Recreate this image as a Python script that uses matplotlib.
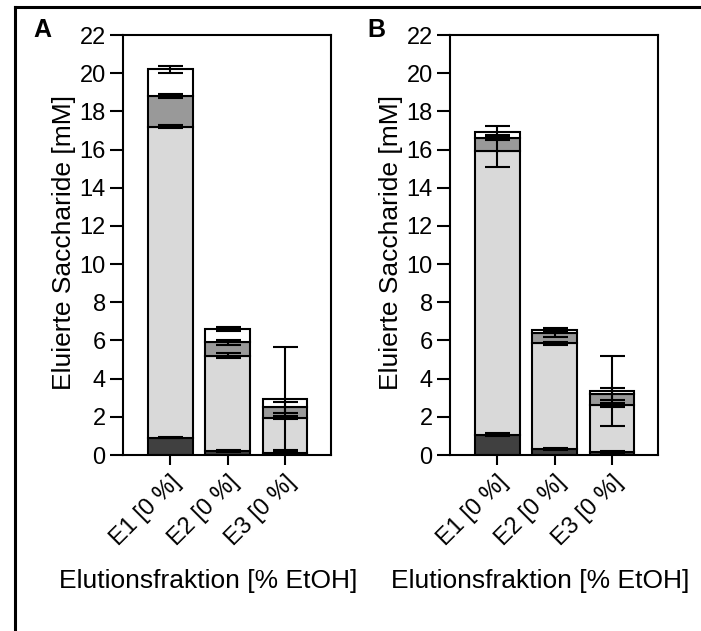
import matplotlib
matplotlib.use("Agg")
import matplotlib.pyplot as plt
import numpy as np
from matplotlib.lines import Line2D

plt.rcParams["font.family"] = ["Liberation Sans", "DejaVu Sans"]

# --- data -----------------------------------------------------------------
categories = ["E1 [0 %]", "E2 [0 %]", "E3 [0 %]"]
yticks = list(range(0, 23, 2))

# panel A, stacked segments (bottom -> top)
dark_A = [0.9, 0.2, 0.1]
light_A = [16.3, 5.0, 1.85]
medium_A = [1.6, 0.7, 0.55]
white_A = [1.4, 0.7, 0.45]
err_dark_A = [0.03, 0.05, 0.1]
err_light_A = [0.08, 0.12, 0.08]
err_medium_A = [0.1, 0.12, 0.3]
err_white_A = [0.2, 0.1, 2.7]

# panel B
dark_B = [1.05, 0.3, 0.15]
light_B = [14.87, 5.55, 2.45]
medium_B = [0.66, 0.55, 0.6]
white_B = [0.36, 0.15, 0.15]
err_dark_B = [0.08, 0.05, 0.05]
err_light_B = [0.85, 0.08, 0.1]
err_medium_B = [0.06, 0.2, 0.3]
err_white_B = [0.3, 0.08, 1.85]

# --- style ------------------------------------------------------------------
COLORS = ["#404040", "#d9d9d9", "#999999", "#ffffff"]
LW = 1.5
TICK_FS = 17
LABEL_FS = 19

W, H = 701, 631
fig = plt.figure(figsize=(W / 100, H / 100), dpi=100)


def px(x, y):
    return x / W, 1 - y / H


def panel(left_px, segs, errs, letter, letter_x, ylab_x, xlab_x):
    ax = fig.add_axes([left_px / W, 1 - 455 / H, 208 / W, 420 / H])
    x = np.arange(len(categories))
    bottom = np.zeros(len(categories))
    for seg, err, col in zip(segs, errs, COLORS):
        seg = np.array(seg)
        ax.bar(x, seg, 0.78, bottom=bottom, color=col, edgecolor="black",
               linewidth=LW, zorder=2)
        bottom = bottom + seg
        ax.errorbar(x, bottom, yerr=err, fmt="none", ecolor="black",
                    elinewidth=LW, capsize=9, capthick=LW, zorder=3)
    ax.set_xlim(-0.82, 2.8)
    ax.set_ylim(0, 22)
    ax.set_yticks(yticks)
    ax.set_xticks(x)
    ax.set_xticklabels(categories, rotation=45, ha="right", va="top",
                       rotation_mode="anchor")
    ax.tick_params(axis="both", direction="out", width=LW, labelsize=TICK_FS)
    ax.tick_params(axis="y", length=9.5, pad=3)
    ax.tick_params(axis="x", length=7, pad=5)
    for s in ax.spines.values():
        s.set_linewidth(LW)
    fig.text(*px(letter_x, 30), letter, fontsize=18, fontweight="bold",
             ha="center", va="center")
    fig.text(*px(ylab_x, 243), "Eluierte Saccharide [mM]", fontsize=LABEL_FS,
             rotation=90, ha="center", va="center")
    fig.text(*px(xlab_x, 581), "Elutionsfraktion [% EtOH]", fontsize=LABEL_FS,
             ha="center", va="center")
    return ax


panel(123, [dark_A, light_A, medium_A, white_A],
      [err_dark_A, err_light_A, err_medium_A, err_white_A], "A", 42, 64, 208)
panel(450, [dark_B, light_B, medium_B, white_B],
      [err_dark_B, err_light_B, err_medium_B, err_white_B], "B", 376, 391, 540)

# outer frame (open to the right and bottom)
fw = 2.2
fig.add_artist(Line2D([14.5 / W, 14.5 / W], [0, 1 - 7 / H], color="black",
                      linewidth=fw, transform=fig.transFigure))
fig.add_artist(Line2D([14.5 / W, 1], [1 - 7 / H, 1 - 7 / H], color="black",
                      linewidth=fw, transform=fig.transFigure,
                      solid_capstyle="projecting"))

fig.savefig("out.png", dpi=100, facecolor="white")
